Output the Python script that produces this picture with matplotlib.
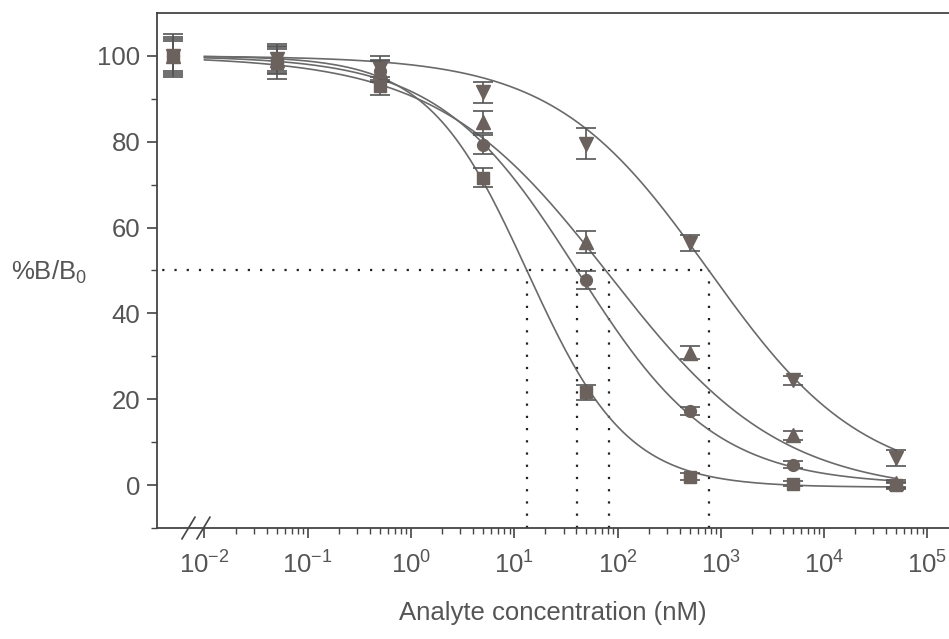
import numpy as np
import matplotlib
matplotlib.use("Agg")
import matplotlib.pyplot as plt
from matplotlib.ticker import FixedLocator, NullFormatter, LogFormatterMathtext

plt.rcParams['font.family'] = ['Liberation Sans', 'DejaVu Sans']
plt.rcParams['mathtext.fontset'] = 'custom'
plt.rcParams['mathtext.rm'] = 'Liberation Sans'
plt.rcParams['mathtext.it'] = 'Liberation Sans:italic'
plt.rcParams['mathtext.bf'] = 'Liberation Sans:bold'

# concentrations (nM); first point is the blank, drawn left of the axis break
conc = [0.005, 0.05, 0.5, 5, 50, 500, 5000, 50000]

# %B/B0 for the four analytes
sq_y = [100, 98.4, 93.0, 71.6, 21.6, 1.9, 0.3, 0.0]
sq_err = [5.0, 3.8, 2.0, 2.2, 1.8, 0.8, 0.6, 0.6]
ci_y = [100, 99.0, 96.5, 79.3, 47.8, 17.2, 4.7, 0.0]
ci_err = [4.0, 3.0, 2.2, 2.2, 2.0, 0.9, 0.8, 0.8]
up_y = [100, 99.0, 96.5, 84.6, 56.6, 30.8, 11.6, 0.4]
up_err = [3.5, 2.5, 2.5, 2.5, 2.5, 1.5, 1.0, 0.8]
dn_y = [100, 99.2, 97.0, 91.5, 79.5, 56.4, 24.4, 6.3]
dn_err = [4.5, 3.5, 3.0, 2.5, 3.6, 1.8, 1.0, 1.8]

# fitted 4-parameter logistic: (top, bottom, IC50, hill slope)
sq_fit = (100, -0.5, 13.4, 0.9)
ci_fit = (100, 0, 40.6, 0.65)
up_fit = (100, -2, 82.8, 0.52)
dn_fit = (100, 0, 766, 0.58)

ic50 = [13.4, 40.6, 82.8, 766]


def logistic(x, p):
    top, bot, c, h = p
    return bot + (top - bot) / (1 + (x / c) ** h)


fig = plt.figure(figsize=(9.49, 6.39), dpi=100)
ax = fig.add_axes([0.1654, 0.1737, 0.8346, 0.806])

gray = '#555555'
mk = '#6b625e'
xs = np.logspace(-2, np.log10(50000), 300)

series = [
    (sq_y, sq_err, sq_fit, 's', 8.5),
    (ci_y, ci_err, ci_fit, 'o', 8.5),
    (up_y, up_err, up_fit, '^', 9.5),
    (dn_y, dn_err, dn_fit, 'v', 9.5),
]
for y, err, fit, m, ms in series:
    ax.plot(xs, logistic(xs, fit), color='#6a6a6a', lw=1.2, zorder=2)
    ax.errorbar(conc, y, yerr=err, fmt=m, ms=ms, color=mk, ecolor='#555555',
                elinewidth=1.2, capsize=7, capthick=1.2, zorder=3)

# dotted guide lines at 50 %
ax.plot([0.003, max(ic50)], [50, 50], color='#222222', lw=1.6,
        ls=(0, (1, 4.5)), zorder=1)
for c in ic50:
    ax.plot([c, c], [-10, 50], color='#222222', lw=1.6, ls=(0, (1, 4.5)), zorder=1)

ax.set_xscale('log')
ax.set_xlim(10 ** -2.46, 10 ** 5.21)
ax.set_ylim(-10, 110)

ax.xaxis.set_major_locator(FixedLocator([10.0 ** k for k in range(-2, 6)]))
ax.xaxis.set_major_formatter(LogFormatterMathtext())
minors = [m * 10.0 ** k for k in range(-2, 5) for m in range(2, 10)]
ax.xaxis.set_minor_locator(FixedLocator(minors))
ax.xaxis.set_minor_formatter(NullFormatter())
ax.set_yticks([0, 20, 40, 60, 80, 100])
ax.set_yticks([-10, 10, 30, 50, 70, 90], minor=True)

ax.tick_params(which='major', length=7, width=1.2, color='#444444',
               labelsize=18.5, labelcolor=gray)
ax.tick_params(axis='x', which='major', pad=10)
ax.tick_params(axis='y', which='major', pad=5)
ax.tick_params(which='minor', length=4, width=1.0, color='#444444')

for s in ['left', 'bottom', 'top']:
    ax.spines[s].set_color('#444444')
    ax.spines[s].set_linewidth(1.3)
ax.spines['right'].set_visible(False)

# axis break marks
for x0 in [0.0316, 0.0505]:
    ax.plot([x0, x0 + 0.0164], [-0.021, 0.021], transform=ax.transAxes,
            color='#444444', lw=1.2, clip_on=False)

ax.set_xlabel('Analyte concentration (nM)', fontsize=18.5, color=gray, labelpad=16)
ax.set_ylabel('%B/B$_0$', fontsize=18.5, color=gray, rotation=0)
ax.yaxis.set_label_coords(-0.136, 0.47)

fig.savefig('out.png', dpi=100)
